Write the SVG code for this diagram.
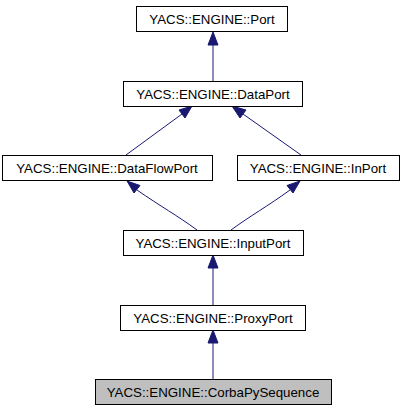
<svg xmlns="http://www.w3.org/2000/svg" width="405" height="411" viewBox="0 0 405 411">
<style>
.box{fill:#ffffff;stroke:#000000;stroke-width:1}
.cur{fill:#bfbfbf;stroke:#000000;stroke-width:1}
.lbl{font-family:"Liberation Sans",Arial,sans-serif;font-size:13.3px;fill:#000000;text-anchor:middle}
.edge{fill:none;stroke:#191970;stroke-width:1}
.head{fill:#191970;stroke:#191970;stroke-width:1}
</style>
<rect width="405" height="411" fill="#ffffff"/>
<g id="connectors">
<path class="edge" d="M213,81 L213,45"/>
<polygon class="head" points="208,45 213,32 218,45"/>
<path class="edge" d="M126,155 L182,114"/>
<polygon class="head" points="179,110 192,106 185,118"/>
<path class="edge" d="M301,155 L243,114"/>
<polygon class="head" points="246,110 232,106 240,118"/>
<path class="edge" d="M197,230 C178,216 160,206 137,190"/>
<polygon class="head" points="140,185.5 127,181 134,193"/>
<path class="edge" d="M231,230 C250,216 268,206 290,190"/>
<polygon class="head" points="287,185.5 300,181 293,193"/>
<path class="edge" d="M213,306 L213,268"/>
<polygon class="head" points="208,268 213,255 218,268"/>
<path class="edge" d="M213,380 L213,343"/>
<polygon class="head" points="208,343 213,330 218,343"/>
</g>
<g id="node-port">
<rect class="box" x="136.5" y="6.5" width="151" height="25"/>
<text class="lbl" x="212" y="23.5">YACS::ENGINE::Port</text>
</g>
<g id="node-dataport">
<rect class="box" x="123.5" y="81.5" width="179" height="25"/>
<text class="lbl" x="213" y="98.5">YACS::ENGINE::DataPort</text>
</g>
<g id="node-dataflowport">
<rect class="box" x="2.5" y="155.5" width="210" height="25"/>
<text class="lbl" x="107" y="172.5">YACS::ENGINE::DataFlowPort</text>
</g>
<g id="node-inport">
<rect class="box" x="237.5" y="155.5" width="162" height="25"/>
<text class="lbl" x="318" y="172.5">YACS::ENGINE::InPort</text>
</g>
<g id="node-inputport">
<rect class="box" x="123.5" y="230.5" width="180" height="25"/>
<text class="lbl" x="213" y="247.5">YACS::ENGINE::InputPort</text>
</g>
<g id="node-proxyport">
<rect class="box" x="120.5" y="305.5" width="185" height="25"/>
<text class="lbl" x="213" y="322.5">YACS::ENGINE::ProxyPort</text>
</g>
<g id="node-corbapysequence">
<rect class="cur" x="95.5" y="379.5" width="236" height="25"/>
<text class="lbl" x="213" y="396.5">YACS::ENGINE::CorbaPySequence</text>
</g>
</svg>
